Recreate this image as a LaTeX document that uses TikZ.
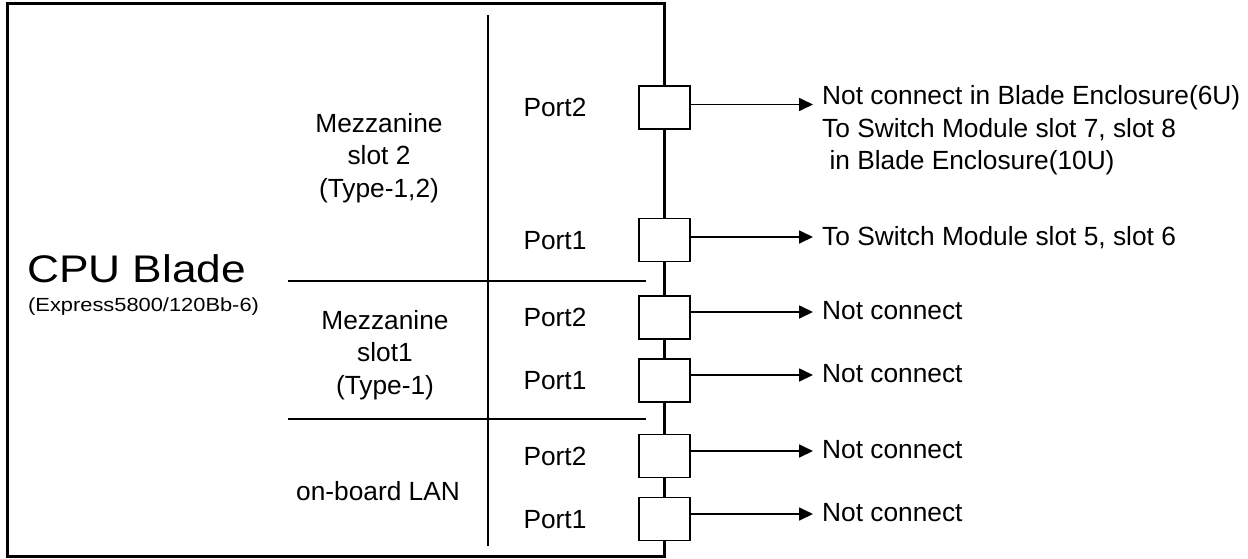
\documentclass[tikz,border=0pt]{standalone}
\usepackage{fontspec}
\setmainfont{Liberation Sans}
\newfontfamily\widefont{Liberation Sans}[FakeStretch=1.15]
\usetikzlibrary{arrows.meta}
\begin{document}
\begin{tikzpicture}[x=1pt,y=-1pt,
  txt/.style={inner sep=0pt, font=\fontsize{26.3}{32.5}\selectfont},
  port/.style={draw, line width=1.3pt, fill=white, minimum width=51pt, minimum height=43pt, inner sep=0pt},
  link/.style={line width=1.7pt, -{Triangle[length=14pt,width=13pt]}},
  frame/.style={line width=3pt},
  divider/.style={line width=1.2pt}]
\useasboundingbox (0,0) rectangle (1248,558);
% blade outline
\draw[frame] (7.5,3.5) rectangle (664.5,556);
% dividers
\draw[divider] (488,15) -- (488,546);
\draw[divider] (288,281) -- (646,281);
\draw[divider] (288,419) -- (646,419);
% ports
\node[port] (m2p2) at (664.5,107.5) {};
\node[port] (m2p1) at (664.5,240) {};
\node[port] (m1p2) at (664.5,317.5) {};
\node[port] (m1p1) at (664.5,380.5) {};
\node[port] (lp2) at (664.5,456) {};
\node[port] (lp1) at (664.5,519) {};
% port labels
\node[txt, anchor=base] (l1) at (555,116.8) {Port2};
\node[txt, anchor=base] (l2) at (555,249.3) {Port1};
\node[txt, anchor=base] (l3) at (555,326.8) {Port2};
\node[txt, anchor=base] (l4) at (555,389.8) {Port1};
\node[txt, anchor=base] (l5) at (555,465.3) {Port2};
\node[txt, anchor=base] (l6) at (555,528.3) {Port1};
% section labels
\node[anchor=base west, inner sep=0pt, font=\widefont\fontsize{38.5}{40}\selectfont] (cpu) at (27,282) {CPU Blade};
\node[anchor=base west, inner sep=0pt, font=\widefont\fontsize{19}{22}\selectfont] (model) at (28,311) {(Express5800/120Bb-6)};
\node[txt, align=center, anchor=base] (mz2) at (379,197) {Mezzanine\\slot 2\\(Type-1,2)};
\node[txt, align=center, anchor=base] (mz1) at (385,394) {Mezzanine\\slot1\\(Type-1)};
\node[txt, anchor=base] (lan) at (378,500) {on-board LAN};
% arrow tips
\coordinate (t1) at (813,104.5);
\coordinate (t2) at (813,237);
\coordinate (t3) at (813,312);
\coordinate (t4) at (813,375);
\coordinate (t5) at (813,451);
\coordinate (t6) at (813,514);
\draw[link] (m2p2.east |- t1) -- (t1);
\draw[link] (m2p1.east |- t2) -- (t2);
\draw[link] (m1p2.east |- t3) -- (t3);
\draw[link] (m1p1.east |- t4) -- (t4);
\draw[link] (lp2.east |- t5) -- (t5);
\draw[link] (lp1.east |- t6) -- (t6);
% destinations
\node[txt, anchor=base west, align=left] (d1) at (822,169.5) {Not connect in Blade Enclosure(6U)\\To Switch Module slot 7, slot 8\\\mbox{} in Blade Enclosure(10U)};
\node[txt, anchor=base west] (d2) at (822,245) {To Switch Module slot 5, slot 6};
\node[txt, anchor=base west] (d3) at (822,319.5) {Not connect};
\node[txt, anchor=base west] (d4) at (822,382.5) {Not connect};
\node[txt, anchor=base west] (d5) at (822,458.5) {Not connect};
\node[txt, anchor=base west] (d6) at (822,521.5) {Not connect};
\end{tikzpicture}
\end{document}
